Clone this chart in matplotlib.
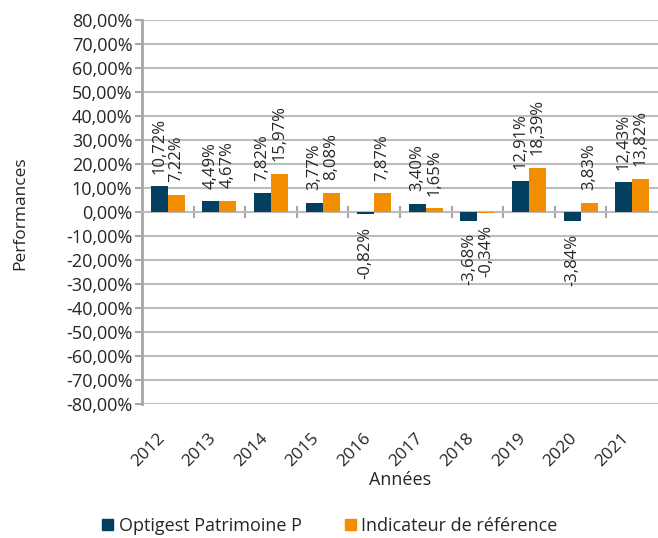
import matplotlib
matplotlib.use("Agg")
import matplotlib.pyplot as plt
import numpy as np
from matplotlib.patches import Patch
from matplotlib.ticker import FuncFormatter

years = ["2012", "2013", "2014", "2015", "2016", "2017", "2018", "2019", "2020", "2021"]
optigest = [10.72, 4.49, 7.82, 3.77, -0.82, 3.40, -3.68, 12.91, -3.84, 12.43]
indicateur = [7.22, 4.67, 15.97, 8.08, 7.87, 1.65, -0.34, 18.39, 3.83, 13.82]
series_names = ["Optigest Patrimoine P", "Indicateur de référence"]
colors = ["#033f5f", "#f28e00"]

plt.rcParams['font.family'] = ['Open Sans', 'DejaVu Sans']
text_color = "#262626"
grid_color = "#bdbdbd"
axis_color = "#a6a6a6"

fig = plt.figure(figsize=(6.58, 5.38), dpi=100)
W, H = 658, 538
ax = fig.add_axes([142 / W, 1 - 404 / H, (658 - 142) / W, (404 - 20) / H])

x = np.arange(len(years))
bw = 0.33
b1 = ax.bar(x - bw / 2, optigest, bw, color=colors[0], zorder=3)
b2 = ax.bar(x + bw / 2, indicateur, bw, color=colors[1], zorder=3)

def fmt(v):
    return f"{v:.2f}%".replace(".", ",")

for bars, vals in ((b1, optigest), (b2, indicateur)):
    for rect, v in zip(bars, vals):
        cx = rect.get_x() + rect.get_width() / 2
        if v >= 0:
            ax.annotate(fmt(v), (cx, v), xytext=(0, 9), textcoords="offset points",
                        rotation=90, ha="center", va="bottom", fontsize=12,
                        color=text_color, zorder=4)
        else:
            ax.annotate(fmt(v), (cx, v), xytext=(0, -9), textcoords="offset points",
                        rotation=90, ha="center", va="top", fontsize=12,
                        color=text_color, zorder=4)

ax.set_xlim(-0.5, len(years) - 0.5)
ax.set_ylim(-80, 80)
ax.set_yticks(np.arange(-80, 81, 10))
ax.yaxis.set_major_formatter(FuncFormatter(lambda v, p: fmt(v)))
ax.tick_params(axis="y", direction="out", length=5, width=1.5, color=axis_color,
               labelsize=13, labelcolor=text_color, pad=2)
ax.yaxis.grid(True, color=grid_color, linewidth=1.5, zorder=0)
ax.set_axisbelow(True)

for s in ("top", "right"):
    ax.spines[s].set_visible(False)
ax.spines["left"].set_color(axis_color)
ax.spines["left"].set_linewidth(2)
ax.spines["bottom"].set_position(("data", 0))
ax.spines["bottom"].set_color(grid_color)
ax.spines["bottom"].set_linewidth(1.5)
ax.set_xticks(np.arange(0.5, len(years) - 0.5, 1))
ax.set_xticklabels([])
ax.tick_params(axis="x", direction="inout", length=8, width=1.5, color=axis_color)

sec = ax.secondary_xaxis("bottom")
sec.set_xticks(x, labels=years)
sec.tick_params(length=0, labelsize=12.5, labelcolor=text_color, pad=19)
for lab in sec.get_xticklabels():
    lab.set_rotation(45)
    lab.set_ha("right")
sec.spines["bottom"].set_visible(False)

fig.text(20 / W, 1 - 213 / H, "Performances", rotation=90, ha="center", va="center",
         fontsize=12.5, color=text_color)
fig.text(400 / W, 1 - 480 / H, "Années", ha="center", va="center",
         fontsize=13, color=text_color)

handles = [Patch(color=colors[0]), Patch(color=colors[1])]
fig.legend(handles, series_names, loc="center", bbox_to_anchor=(330 / W, 1 - 526 / H),
           ncol=2, frameon=False, fontsize=13, handlelength=0.6, handleheight=0.6,
           handletextpad=0.3, columnspacing=2.4, labelcolor=text_color,
           borderpad=0, borderaxespad=0)

fig.savefig("out.png", dpi=100)
